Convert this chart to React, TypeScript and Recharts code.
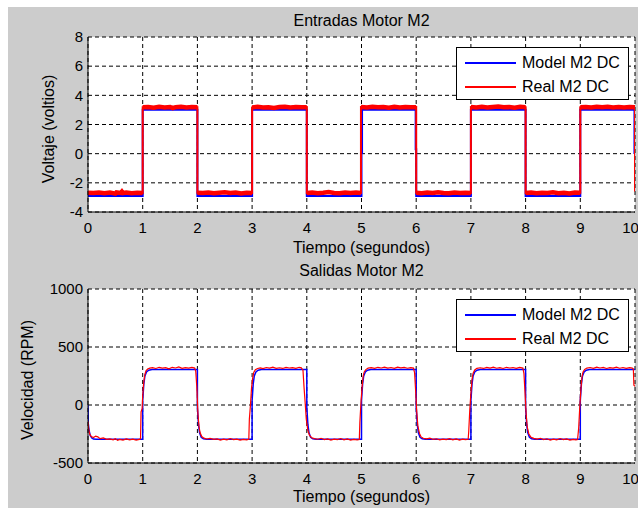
import {
  CartesianGrid,
  Legend,
  Line,
  LineChart,
  XAxis,
  YAxis,
} from "recharts"

type Pt = [number, number]

const timeTicks = [0, 1, 2, 3, 4, 5, 6, 7, 8, 9, 10]
const voltTicks = [-4, -2, 0, 2, 4, 6, 8]
const rpmTicks = [-500, 0, 500, 1000]

const seriesNames = ["Model M2 DC", "Real M2 DC"]
const seriesColors = ["#0000ff", "#ff0000"]

// entradas: modelo (azul)
const modelInput: Pt[] = [
  [0, -2.9], [1, -2.9], [1, 3.02], [2, 3.02], [2, -2.9], [3, -2.9], [3, 3.02],
  [4, 3.02], [4, -2.9], [5, -2.9], [5, 0.05], [5.01, 0.05], [5.01, 3.02],
  [5.99, 3.02], [5.99, 0.3], [6, 0.3], [6, -2.9], [7, -2.9], [7, 3.02],
  [8, 3.02], [8, -2.9], [9, -2.9], [9, 3.02], [9.99, 3.02], [9.99, 0.05], [10, 0.05],
]

// entradas: real (rojo)
const realInput: Pt[] = [
  [0, -2.68], [0.1, -2.7], [0.2, -2.66], [0.3, -2.71], [0.4, -2.67], [0.5, -2.74],
  [0.52, -2.66], [0.6, -2.69], [0.62, -2.6], [0.64, -2.7], [0.7, -2.67], [0.8, -2.71],
  [0.9, -2.68], [1, -2.7], [1, 3.18],
  [1.1, 3.2], [1.2, 3.15], [1.3, 3.22], [1.4, 3.17], [1.5, 3.2], [1.55, 3.12],
  [1.6, 3.19], [1.7, 3.21], [1.8, 3.16], [1.9, 3.2], [2, 3.18], [2, -2.68],
  [2.1, -2.7], [2.2, -2.66], [2.3, -2.72], [2.4, -2.68], [2.5, -2.64], [2.6, -2.7],
  [2.7, -2.67], [2.8, -2.73], [2.9, -2.68], [3, -2.69], [3, 3.17],
  [3.1, 3.21], [3.2, 3.16], [3.3, 3.19], [3.4, 3.14], [3.5, 3.2], [3.6, 3.22],
  [3.7, 3.17], [3.8, 3.2], [3.9, 3.18], [4, 3.19], [4, -2.7],
  [4.1, -2.66], [4.2, -2.71], [4.3, -2.68], [4.4, -2.63], [4.5, -2.69], [4.6, -2.72],
  [4.7, -2.67], [4.8, -2.7], [4.9, -2.66], [4.99, -2.69], [4.99, 3.2],
  [5.1, 3.16], [5.2, 3.22], [5.3, 3.18], [5.4, 3.2], [5.5, 3.15], [5.6, 3.21],
  [5.7, 3.17], [5.8, 3.2], [5.9, 3.18], [6, 3.19], [6, -2.68],
  [6.1, -2.71], [6.2, -2.67], [6.3, -2.7], [6.4, -2.65], [6.5, -2.69], [6.6, -2.72],
  [6.7, -2.66], [6.8, -2.7], [6.9, -2.68], [7, -2.7], [7, 3.2],
  [7.1, 3.17], [7.2, 3.21], [7.3, 3.16], [7.4, 3.2], [7.5, 3.23], [7.6, 3.18],
  [7.7, 3.2], [7.8, 3.15], [7.9, 3.21], [8, 3.18], [8, -2.7],
  [8.1, -2.67], [8.2, -2.72], [8.3, -2.68], [8.4, -2.7], [8.5, -2.65], [8.6, -2.71],
  [8.7, -2.68], [8.8, -2.73], [8.9, -2.67], [9, -2.68], [9, 3.19],
  [9.1, 3.2], [9.2, 3.16], [9.3, 3.21], [9.4, 3.18], [9.5, 3.22], [9.6, 3.17],
  [9.7, 3.2], [9.8, 3.16], [9.9, 3.2], [10, 3.18], [10, -2.6],
]

// salidas: modelo (azul)
const modelOutput: Pt[] = [
  [0, 0], [0.005, -160], [0.02, -220], [0.04, -262], [0.07, -285], [0.1, -294], [0.15, -296], [1, -296],
  [1, 40], [1.02, 180], [1.04, 250], [1.07, 285], [1.11, 300], [1.17, 306], [2, 306],
  [2, -20], [2.02, -170], [2.04, -240], [2.07, -278], [2.11, -291], [2.17, -296], [3, -296],
  [3, 40], [3.02, 180], [3.04, 250], [3.07, 285], [3.11, 300], [3.17, 306], [4, 306],
  [4, -20], [4.02, -170], [4.04, -240], [4.07, -278], [4.11, -291], [4.17, -296], [5, -296],
  [5, 40], [5.02, 180], [5.04, 250], [5.07, 285], [5.11, 300], [5.17, 306], [6, 306],
  [6, -20], [6.02, -170], [6.04, -240], [6.07, -278], [6.11, -291], [6.17, -296], [7, -296],
  [7, 40], [7.02, 180], [7.04, 250], [7.07, 285], [7.11, 300], [7.17, 306], [8, 306],
  [8, -20], [8.02, -170], [8.04, -240], [8.07, -278], [8.11, -291], [8.17, -296], [9, -296],
  [9, 40], [9.02, 180], [9.04, 250], [9.07, 285], [9.11, 300], [9.17, 306], [10, 306],
]

// salidas: real (rojo)
const realOutput: Pt[] = [
  [0, -140], [0.01, -200], [0.03, -250], [0.06, -272], [0.1, -280], [0.14, -268], [0.18, -275],
  [0.22, -290], [0.28, -284], [0.34, -296], [0.4, -292], [0.46, -300], [0.5, -290], [0.54, -305],
  [0.58, -296], [0.64, -302], [0.7, -292], [0.76, -300], [0.82, -295], [0.88, -303], [0.94, -297],
  [0.96, -290], [0.97, -60], [0.99, -30], [1.0, 80], [1.02, 200], [1.04, 265], [1.06, 295],
  [1.09, 310], [1.13, 318],
  [1.18, 322], [1.24, 315], [1.3, 325], [1.36, 318], [1.42, 322], [1.48, 312], [1.54, 325],
  [1.6, 319], [1.66, 328], [1.72, 316], [1.78, 322], [1.84, 318], [1.9, 324], [1.95, 318],
  [1.97, 290], [1.99, 150], [2.01, -80], [2.03, -190], [2.05, -240], [2.08, -272], [2.12, -286],
  [2.17, -293], [2.23, -288], [2.3, -297], [2.36, -292], [2.42, -303], [2.48, -295], [2.54, -300],
  [2.6, -289], [2.66, -298], [2.72, -294], [2.78, -302], [2.84, -296], [2.9, -300], [2.94, -295],
  [2.95, -120], [2.97, 0], [2.99, 150], [3.01, 230], [3.03, 280], [3.06, 305], [3.1, 315],
  [3.15, 320], [3.2, 314], [3.26, 323], [3.32, 318], [3.38, 326], [3.44, 316], [3.5, 321],
  [3.56, 315], [3.62, 324], [3.68, 319], [3.74, 322], [3.8, 316], [3.86, 325], [3.9, 320],
  [3.93, 300], [3.95, 150], [3.97, 20], [3.99, -120], [4.02, -220], [4.05, -262], [4.09, -282],
  [4.14, -290],
  [4.2, -295], [4.26, -287], [4.32, -298], [4.38, -292], [4.44, -302], [4.5, -294], [4.56, -299],
  [4.62, -289], [4.68, -300], [4.74, -293], [4.8, -303], [4.86, -296], [4.92, -300], [4.96, -298],
  [4.97, -150], [4.99, 20], [5.01, 150], [5.03, 250], [5.05, 285], [5.08, 305], [5.12, 318],
  [5.18, 322], [5.24, 316], [5.3, 325], [5.36, 319], [5.42, 327], [5.48, 318], [5.54, 323],
  [5.6, 316], [5.66, 326], [5.72, 320], [5.78, 324], [5.84, 317], [5.9, 322], [5.95, 318],
  [5.97, 280], [5.99, 120], [6.01, -60], [6.03, -180], [6.06, -245], [6.09, -275], [6.13, -287],
  [6.19, -292], [6.25, -286], [6.31, -297], [6.37, -291], [6.43, -301], [6.49, -294], [6.55, -299],
  [6.61, -290], [6.67, -300], [6.73, -293], [6.79, -302], [6.85, -295], [6.9, -299], [6.95, -296],
  [6.96, -230], [6.98, -40], [7.0, 100], [7.02, 220], [7.04, 275], [7.07, 302], [7.11, 316],
  [7.17, 321], [7.23, 315], [7.29, 324], [7.35, 318], [7.41, 326], [7.47, 317], [7.53, 322],
  [7.59, 315], [7.65, 325], [7.71, 319], [7.77, 323], [7.83, 316], [7.89, 324], [7.95, 318],
  [7.97, 270], [7.99, 100], [8.01, -80], [8.03, -190], [8.06, -250], [8.1, -278], [8.15, -288],
  [8.21, -294], [8.27, -287], [8.33, -298], [8.39, -291], [8.45, -302], [8.51, -295], [8.57, -300],
  [8.63, -289], [8.69, -299], [8.75, -293], [8.81, -303], [8.87, -296], [8.92, -300], [8.95, -298],
  [8.97, -200], [8.99, -20], [9.01, 130], [9.03, 240], [9.05, 285], [9.08, 306], [9.12, 318],
  [9.18, 323], [9.24, 316], [9.3, 326], [9.36, 319], [9.42, 324], [9.48, 315], [9.54, 322],
  [9.6, 318], [9.66, 327], [9.72, 317], [9.78, 323], [9.84, 316], [9.9, 322], [9.95, 318],
  [9.97, 310], [9.98, 170], [10, 160],
]

const toRows = (pts: Pt[]) => pts.map(([t, v]) => ({ t, v }))

// same points, broken at the vertical jumps, so the noisy plateaus can be drawn thick
const plateauRows = (pts: Pt[]) => {
  const rows: { t: number; v: number | null }[] = []
  pts.forEach(([t, v], i) => {
    if (i > 0 && pts[i - 1][0] === t) rows.push({ t, v: null })
    rows.push({ t, v })
  })
  return rows
}

const FONT = '"Liberation Sans", Arial, sans-serif'
const PLOT_LEFT = 88
const PLOT_RIGHT = 635

function LegendBox() {
  return (
    <div
      style={{
        width: 171,
        height: 51,
        background: "#fff",
        border: "1px solid #000",
        fontFamily: FONT,
        fontSize: 16,
        color: "#000",
        position: "relative",
      }}
    >
      {seriesNames.map((name, i) => (
        <div
          key={name}
          style={{
            position: "absolute",
            left: 8,
            top: 5 + i * 24,
            height: 20,
            display: "flex",
            alignItems: "center",
            whiteSpace: "nowrap",
          }}
        >
          <span style={{ display: "inline-block", width: 51, height: 1.5, background: seriesColors[i], marginRight: 6 }} />
          <span>{name}</span>
        </div>
      ))}
    </div>
  )
}

function Panel({
  top,
  height,
  xAxisHeight,
  yDomain,
  yTicks,
  model,
  real,
  realWidth,
  modelWidth,
  bandWidth,
}: {
  top: number
  height: number
  xAxisHeight: number
  yDomain: [number, number]
  yTicks: number[]
  model: Pt[]
  real: Pt[]
  realWidth: number
  modelWidth: number
  bandWidth?: number
}) {
  const tick = { fontSize: 15, fill: "#000", fontFamily: FONT }
  return (
    <div style={{ position: "absolute", left: 0, top }}>
      <LineChart
        width={638}
        height={height}
        margin={{ top: 37, right: 638 - PLOT_RIGHT, bottom: 0, left: 0 }}
      >
        <CartesianGrid
          fill="#fff"
          stroke="#000"
          strokeDasharray="4 3"
          horizontalValues={yTicks}
          verticalValues={timeTicks}
        />
        <XAxis
          dataKey="t"
          type="number"
          domain={[0, 10]}
          ticks={timeTicks}
          allowDataOverflow
          height={xAxisHeight}
          tickLine={false}
          tickSize={0}
          tickMargin={10}
          tick={tick}
          axisLine={{ stroke: "#000" }}
        />
        <XAxis
          xAxisId="top"
          orientation="top"
          type="number"
          domain={[0, 10]}
          height={0}
          tick={false}
          tickLine={false}
          axisLine={{ stroke: "#000" }}
        />
        <YAxis
          type="number"
          domain={yDomain}
          ticks={yTicks}
          allowDataOverflow
          width={PLOT_LEFT}
          tickLine={false}
          tickSize={0}
          tickMargin={5}
          tick={tick}
          axisLine={{ stroke: "#000" }}
        />
        <YAxis
          yAxisId="right"
          orientation="right"
          type="number"
          domain={yDomain}
          width={0}
          tick={false}
          tickLine={false}
          axisLine={{ stroke: "#000" }}
        />
        <Legend
          layout="vertical"
          align="center"
          verticalAlign="middle"
          wrapperStyle={{ position: "absolute", left: 456, top: 47, width: 173, height: 53 }}
          content={() => <LegendBox />}
        />
        <Line
          data={toRows(model)}
          dataKey="v"
          name={seriesNames[0]}
          type="linear"
          stroke={seriesColors[0]}
          strokeWidth={modelWidth}
          dot={false}
          isAnimationActive={false}
        />
        {bandWidth ? (
          <Line
            data={plateauRows(real)}
            dataKey="v"
            name="band"
            legendType="none"
            type="linear"
            stroke={seriesColors[1]}
            strokeWidth={bandWidth}
            strokeLinecap="butt"
            connectNulls={false}
            dot={false}
            isAnimationActive={false}
          />
        ) : null}
        <Line
          data={toRows(real)}
          dataKey="v"
          name={seriesNames[1]}
          type="linear"
          stroke={seriesColors[1]}
          strokeWidth={realWidth}
          dot={false}
          isAnimationActive={false}
        />
      </LineChart>
    </div>
  )
}

const textStyle = {
  position: "absolute" as const,
  fontFamily: FONT,
  fontSize: 16,
  lineHeight: "16px",
  color: "#000",
  whiteSpace: "nowrap" as const,
  textAlign: "center" as const,
}

function HText({ text, top }: { text: string; top: number }) {
  return <div style={{ ...textStyle, left: PLOT_LEFT, width: PLOT_RIGHT - PLOT_LEFT, top }}>{text}</div>
}

function VText({ text, cx, cy }: { text: string; cx: number; cy: number }) {
  return (
    <div
      style={{
        ...textStyle,
        width: 200,
        height: 16,
        left: cx - 100,
        top: cy - 8,
        transform: "rotate(-90deg)",
      }}
    >
      {text}
    </div>
  )
}

export default function App() {
  return (
    <div style={{ position: "fixed", left: 0, top: 0, width: 638, height: 508, background: "#fff", overflow: "hidden" }}>
      <div style={{ position: "absolute", left: 8, top: 7, width: 630, height: 501, background: "#cccccc" }} />
      <Panel
        top={0}
        height={260}
        xAxisHeight={48}
        yDomain={[-4, 8]}
        yTicks={voltTicks}
        model={modelInput}
        real={realInput}
        modelWidth={2}
        realWidth={2}
        bandWidth={4.5}
      />
      <Panel
        top={252}
        height={256}
        xAxisHeight={45}
        yDomain={[-500, 1000]}
        yTicks={rpmTicks}
        model={modelOutput}
        real={realOutput}
        modelWidth={1.5}
        realWidth={1.2}
      />
      <HText text="Entradas Motor M2" top={13} />
      <HText text="Tiempo (segundos)" top={240} />
      <HText text="Salidas Motor M2" top={263} />
      <HText text="Tiempo (segundos)" top={489} />
      <VText text="Voltaje (voltios)" cx={48.5} cy={129} />
      <VText text="Velocidad (RPM)" cx={27.5} cy={380} />
    </div>
  )
}
